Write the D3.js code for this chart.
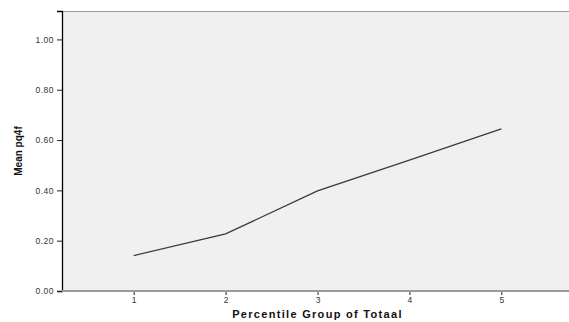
<!DOCTYPE html>
<html>
<head>
<meta charset="utf-8">
<script src="https://cdn.jsdelivr.net/npm/d3@7"></script>
<style>
  html, body { margin: 0; padding: 0; background: #fff; }
  svg { display: block; }
  text { font-family: "Liberation Sans", Arial, sans-serif; }
</style>
</head>
<body>
<svg id="chart" width="569" height="322"></svg>
<script>
// Mean pq4f by percentile group
const groups = [1, 2, 3, 4, 5];
const meanValues = [0.141, 0.227, 0.398, 0.520, 0.644];
const yTicks = [0.0, 0.2, 0.4, 0.6, 0.8, 1.0];

const svg = d3.select("#chart");
const plot = { left: 62, right: 573, top: 11, bottom: 291 };

const x = d3.scaleLinear().domain([0.22, 5.78]).range([plot.left, plot.right]);
const y = d3.scaleLinear().domain([0, 1.113]).range([plot.bottom, plot.top]);

// plot background
svg.append("rect")
  .attr("x", plot.left).attr("y", plot.top)
  .attr("width", plot.right - plot.left).attr("height", plot.bottom - plot.top)
  .attr("fill", "#f0f0f0");

// top frame line
svg.append("line")
  .attr("x1", plot.left).attr("x2", plot.right)
  .attr("y1", plot.top + 0.5).attr("y2", plot.top + 0.5)
  .attr("stroke", "#9a9a9a").attr("stroke-width", 1);

// y axis
const yAxis = svg.append("g")
  .attr("transform", `translate(${plot.left},0)`)
  .call(d3.axisLeft(y).tickValues(yTicks).tickFormat(d3.format(".2f")).tickSize(5).tickPadding(3));
yAxis.select(".domain").attr("stroke", "#000").attr("stroke-width", 1.3);
yAxis.selectAll(".tick line").attr("stroke", "#222");
yAxis.selectAll(".tick text").attr("font-size", 8.5).attr("fill", "#333")
  .attr("letter-spacing", 0.5)
  .attr("font-family", "'Liberation Sans', Arial, sans-serif");

// x axis
const xAxis = svg.append("g")
  .attr("transform", `translate(0,${plot.bottom})`)
  .call(d3.axisBottom(x).tickValues(groups).tickFormat(d3.format("d")).tickSize(4).tickPadding(2));
xAxis.select(".domain").remove();
xAxis.selectAll(".tick line").attr("stroke", "#222");
xAxis.selectAll(".tick text").attr("font-size", 8.5).attr("fill", "#333")
  .attr("font-family", "'Liberation Sans', Arial, sans-serif");

// bottom baseline
svg.append("line")
  .attr("x1", plot.left).attr("x2", plot.right)
  .attr("y1", plot.bottom).attr("y2", plot.bottom)
  .attr("stroke", "#9a9a9a").attr("stroke-width", 2);

// series line
const line = d3.line()
  .x((d, i) => x(groups[i]))
  .y(d => y(d));
svg.append("path")
  .datum(meanValues)
  .attr("d", line)
  .attr("fill", "none")
  .attr("stroke", "#3a3a3a")
  .attr("stroke-width", 1.3);

// axis titles
svg.append("text")
  .attr("x", x(3)).attr("y", 318)
  .attr("text-anchor", "middle")
  .attr("font-size", 11).attr("font-weight", "bold").attr("fill", "#111")
  .attr("letter-spacing", 1.3)
  .text("Percentile Group of Totaal");

svg.append("text")
  .attr("transform", `translate(22,${(plot.top + plot.bottom) / 2}) rotate(-90)`)
  .attr("text-anchor", "middle")
  .attr("font-size", 10).attr("font-weight", "bold").attr("fill", "#111")
  .text("Mean pq4f");
</script>
</body>
</html>
